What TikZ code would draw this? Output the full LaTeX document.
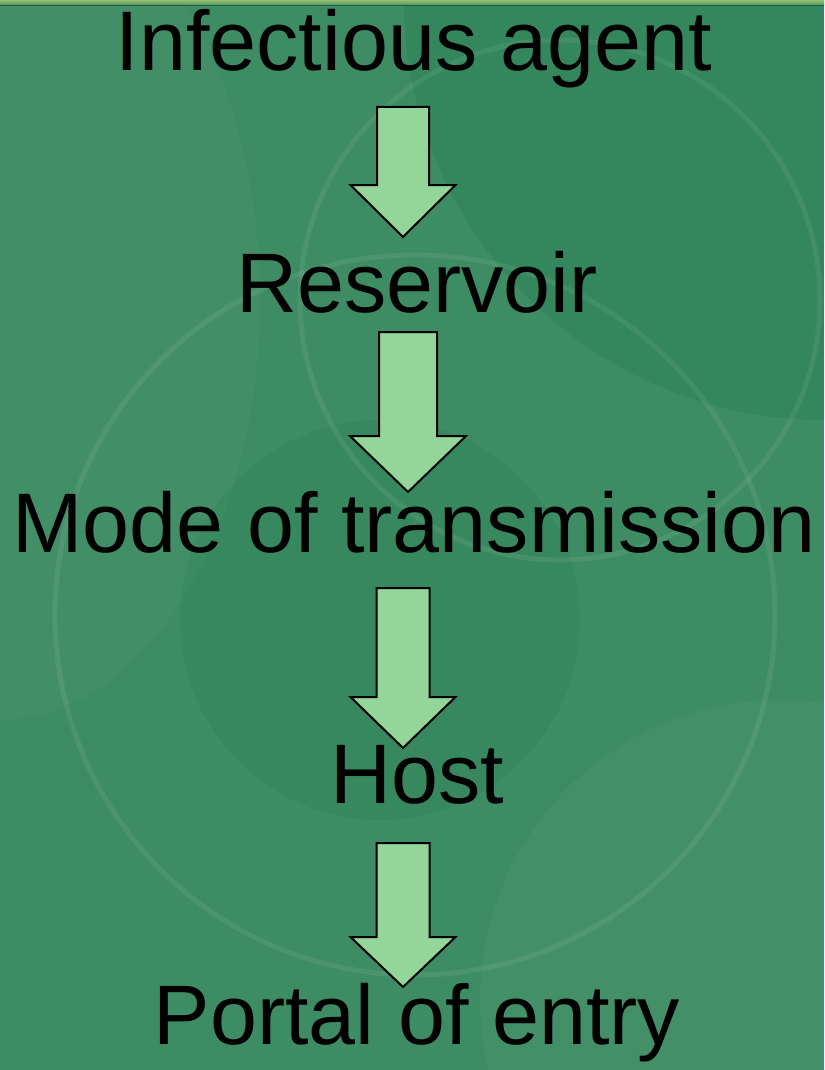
\documentclass[tikz,border=0pt]{standalone}
\usepackage{fontspec}
\setmainfont{Liberation Sans}
\definecolor{bgmain}{RGB}{62,140,100}
\definecolor{bgdark}{RGB}{44,130,86}
\definecolor{bglight}{RGB}{78,152,112}
\definecolor{arrowfill}{RGB}{148,214,154}
\definecolor{topband}{RGB}{150,190,110}
\tikzset{
  label text/.style={anchor=base, inner sep=0pt, font=\fontsize{84.5}{90}\selectfont, text=black},
  blockarrow/.style={draw=black, line width=2pt, fill=arrowfill, line join=miter},
  faint ring/.style={draw=white, opacity=0.07, line width=5pt},
}
\newcommand{\blockarr}[6]{% cx, top, shoulder, tip, half shaft, half head
  \draw[blockarrow] (#1-#5,#2) -- (#1+#5,#2) -- (#1+#5,#3) -- (#1+#6,#3)
     -- (#1,#4) -- (#1-#6,#3) -- (#1-#5,#3) -- cycle;}
\begin{document}
\begin{tikzpicture}[x=1pt,y=-1pt]
\useasboundingbox (0,0) rectangle (824,1070);
% background
\fill[bgmain] (0,0) rectangle (824,1070);
\begin{scope}
\clip (0,0) rectangle (824,1070);
\fill[bgdark, opacity=0.5] (824,0) circle (420);
\fill[bglight, opacity=0.3] (0,300) ellipse (260 and 420);
\fill[bglight, opacity=0.35] (780,1000) circle (300);
\fill[bgdark, opacity=0.3] (380,620) circle (200);
\draw[faint ring] (415,615) circle (360);
\draw[faint ring] (560,300) circle (260);
\end{scope}
\shade[top color=topband, bottom color=bgmain] (0,0) rectangle (824,6);
\draw[bgdark!70!black, line width=1pt] (0,6) -- (824,6);
% texts
\node[label text] (agent) at (414,71) {Infectious agent};
\node[label text] (res) at (417,312) {Reservoir};
\node[label text] (mode) at (414,552) {Mode of transmission};
\node[label text] (host) at (417,803) {Host};
\node[label text] (portal) at (417,1044) {Portal of entry};
% arrows
\blockarr{403}{107}{185}{237}{26}{52.5}
\blockarr{408}{332}{436}{492}{29}{58}
\blockarr{403}{588}{697}{748}{26.5}{52.5}
\blockarr{403}{843}{937}{987}{26.5}{52.5}
\end{tikzpicture}
\end{document}
